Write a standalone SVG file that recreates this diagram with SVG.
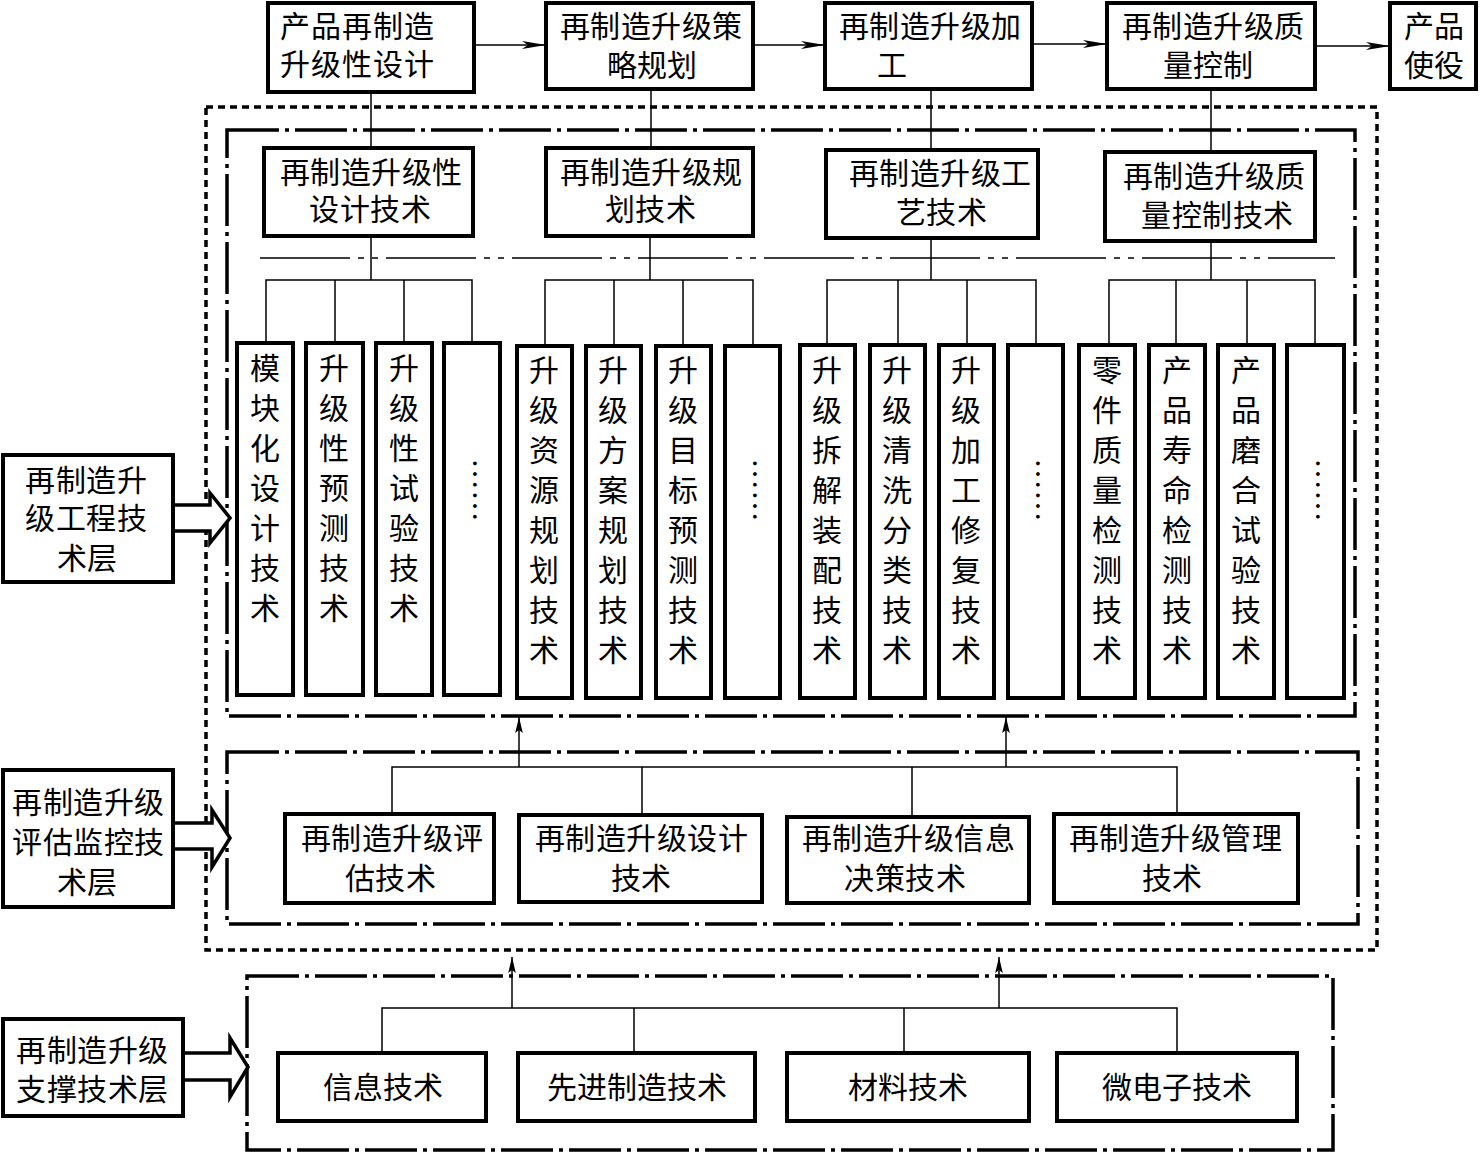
<svg xmlns="http://www.w3.org/2000/svg" width="1480" height="1153" viewBox="0 0 1480 1153">
<defs>
<style>
text{font-family:"Noto Sans CJK SC","Noto Sans CJK TC",sans-serif;font-size:30px;fill:#000;text-anchor:middle}
.box{fill:#fff;stroke:#000;stroke-width:4}
.col{fill:#fff;stroke:#000;stroke-width:4}
.ln{fill:none;stroke:#000;stroke-width:1.5}
.dot{fill:none;stroke:#000;stroke-width:3.5;stroke-dasharray:7 5}
.dd{fill:none;stroke:#000;stroke-width:3.5;stroke-dasharray:52 6 4 6}
.thindd{fill:none;stroke:#000;stroke-width:1.5;stroke-dasharray:90 8 6 8 6 8}
.hollow{fill:#fff;stroke:#000;stroke-width:3.5;stroke-linejoin:miter}
.ell{font-family:"Liberation Serif",serif;font-size:32px}
</style>
<marker id="ah" markerUnits="userSpaceOnUse" markerWidth="26" markerHeight="10" viewBox="0 -5 26 10" refX="24" refY="0" orient="auto">
<path d="M0,-4 L24,0 L0,4 L6,0 Z" fill="#000"/>
</marker>
<marker id="au" markerUnits="userSpaceOnUse" markerWidth="18" markerHeight="10" viewBox="0 -5 18 10" refX="16" refY="0" orient="auto">
<path d="M0,-3.8 L16,0 L0,3.8 L3,0 Z" fill="#000"/>
</marker>
</defs>
<rect width="1480" height="1153" fill="#fff"/>

<!-- layer frames -->
<g id="frames">
<rect class="dot" x="206" y="107" width="1171" height="843"/>
<rect class="dd" x="227" y="130" width="1128" height="586"/>
<rect class="dd" x="227" y="752" width="1131" height="172"/>
<rect class="dd" x="247" y="976" width="1086" height="174"/>
<line class="thindd" x1="260" y1="258" x2="1335" y2="258"/>
</g>

<!-- connectors -->
<g id="connectors">
<line class="ln" x1="474" y1="45" x2="546" y2="45" marker-end="url(#ah)"/>
<line class="ln" x1="753" y1="45" x2="825" y2="45" marker-end="url(#ah)"/>
<line class="ln" x1="1032" y1="44" x2="1107" y2="44" marker-end="url(#ah)"/>
<line class="ln" x1="1317" y1="46" x2="1390" y2="46" marker-end="url(#ah)"/>

<line class="ln" x1="371" y1="92" x2="371" y2="148"/>
<line class="ln" x1="651" y1="89" x2="651" y2="148"/>
<line class="ln" x1="931" y1="89" x2="931" y2="150"/>
<line class="ln" x1="1211" y1="89" x2="1211" y2="152"/>

<path class="ln" d="M371,236 V280 M266,343 V280 H472 V343 M335,280 V343 M404,280 V343"/>
<path class="ln" d="M650,236 V280 M545,346 V280 H753 V346 M614,280 V346 M683,280 V346"/>
<path class="ln" d="M931,238 V280 M827,345 V280 H1036 V345 M898,280 V345 M967,280 V345"/>
<path class="ln" d="M1211,241 V280 M1109,345 V280 H1315 V345 M1176,280 V345 M1247,280 V345"/>

<path class="ln" d="M392,814 V767 H1177 V814 M642,767 V815 M912,767 V817"/>
<line class="ln" x1="519" y1="767" x2="519" y2="717" marker-end="url(#au)"/>
<line class="ln" x1="1006" y1="767" x2="1006" y2="717" marker-end="url(#au)"/>

<path class="ln" d="M382,1053 V1008 H1177 V1053 M634,1008 V1053 M904,1008 V1053"/>
<line class="ln" x1="512" y1="1008" x2="512" y2="957" marker-end="url(#au)"/>
<line class="ln" x1="999" y1="1008" x2="999" y2="957" marker-end="url(#au)"/>

<polygon class="hollow" points="173,505 210,505 210,493 230,518 210,543 210,531 173,531"/>
<polygon class="hollow" points="173,823 212,823 212,810 230,838 212,867 212,849 173,849"/>
<polygon class="hollow" points="183,1053 230,1053 230,1038 248,1067 230,1097 230,1080 183,1080"/>
</g>

<!-- top process row -->
<g id="p1"><rect class="box" x="268" y="3" width="206" height="89"/><text x="295 326 357 388 419 295 326 357 388 419" y="37 37 37 37 37 75 75 75 75 75">产品再制造升级性设计</text></g>
<g id="p2"><rect class="box" x="546" y="3" width="207" height="86"/><text x="575 605 636 666 697 727 622 652 682" y="37 37 37 37 37 37 76 76 76">再制造升级策略规划</text></g>
<g id="p3"><rect class="box" x="825" y="3" width="207" height="86"/><text x="854 884 915 945 976 1006 892" y="37 37 37 37 37 37 76">再制造升级加工</text></g>
<g id="p4"><rect class="box" x="1107" y="3" width="208" height="86"/><text x="1137 1167 1198 1228 1259 1289 1178 1208 1238" y="37 37 37 37 37 37 76 76 76">再制造升级质量控制</text></g>
<g id="p5"><rect class="box" x="1390" y="3" width="86" height="86"/><text x="1419 1449 1419 1449" y="37 37 76 76">产品使役</text></g>

<!-- second level -->
<g id="t1"><rect class="box" x="264" y="148" width="209" height="88"/><text x="295 325 356 386 417 447 324 355 385 416" y="183 183 183 183 183 183 220 220 220 220">再制造升级性设计技术</text></g>
<g id="t2"><rect class="box" x="546" y="148" width="207" height="88"/><text x="575 605 636 666 697 727 620 650 681" y="183 183 183 183 183 183 220 220 220">再制造升级规划技术</text></g>
<g id="t3"><rect class="box" x="826" y="150" width="212" height="88"/><text x="864 894 925 955 986 1016 911 941 972" y="184 184 184 184 184 184 223 223 223">再制造升级工艺技术</text></g>
<g id="t4"><rect class="box" x="1105" y="152" width="210" height="89"/><text x="1138 1168 1199 1229 1260 1290 1156 1187 1217 1248 1278" y="187 187 187 187 187 187 226 226 226 226 226">再制造升级质量控制技术</text></g>

<!-- columns group 1 -->
<g id="c1"><rect class="col" x="237" y="343" width="56" height="352"/><text x="265 265 265 265 265 265 265" y="379 419 459 499 539 579 619">模块化设计技术</text></g>
<g id="c2"><rect class="col" x="306" y="343" width="57" height="352"/><text x="334 334 334 334 334 334 334" y="379 419 459 499 539 579 619">升级性预测技术</text></g>
<g id="c3"><rect class="col" x="376" y="343" width="56" height="352"/><text x="404 404 404 404 404 404 404" y="379 419 459 499 539 579 619">升级性试验技术</text></g>
<g id="c4"><rect class="col" x="444" y="343" width="56" height="352"/><text class="ell" x="473" y="490" transform="rotate(90 473 490)">……</text></g>

<!-- columns group 2 -->
<g id="c5"><rect class="col" x="517" y="346" width="55" height="352"/><text x="544 544 544 544 544 544 544 544" y="381 421 461 501 541 581 621 661">升级资源规划技术</text></g>
<g id="c6"><rect class="col" x="586" y="346" width="55" height="352"/><text x="613 613 613 613 613 613 613 613" y="381 421 461 501 541 581 621 661">升级方案规划技术</text></g>
<g id="c7"><rect class="col" x="656" y="346" width="55" height="352"/><text x="683 683 683 683 683 683 683 683" y="381 421 461 501 541 581 621 661">升级目标预测技术</text></g>
<g id="c8"><rect class="col" x="725" y="346" width="55" height="352"/><text class="ell" x="753" y="490" transform="rotate(90 753 490)">……</text></g>

<!-- columns group 3 -->
<g id="c9"><rect class="col" x="800" y="345" width="55" height="353"/><text x="827 827 827 827 827 827 827 827" y="381 421 461 501 541 581 621 661">升级拆解装配技术</text></g>
<g id="c10"><rect class="col" x="870" y="345" width="55" height="353"/><text x="897 897 897 897 897 897 897 897" y="381 421 461 501 541 581 621 661">升级清洗分类技术</text></g>
<g id="c11"><rect class="col" x="939" y="345" width="55" height="353"/><text x="966 966 966 966 966 966 966 966" y="381 421 461 501 541 581 621 661">升级加工修复技术</text></g>
<g id="c12"><rect class="col" x="1008" y="345" width="55" height="353"/><text class="ell" x="1036" y="490" transform="rotate(90 1036 490)">……</text></g>

<!-- columns group 4 -->
<g id="c13"><rect class="col" x="1079" y="345" width="56" height="353"/><text x="1107 1107 1107 1107 1107 1107 1107 1107" y="381 421 461 501 541 581 621 661">零件质量检测技术</text></g>
<g id="c14"><rect class="col" x="1149" y="345" width="56" height="353"/><text x="1177 1177 1177 1177 1177 1177 1177 1177" y="381 421 461 501 541 581 621 661">产品寿命检测技术</text></g>
<g id="c15"><rect class="col" x="1218" y="345" width="56" height="353"/><text x="1246 1246 1246 1246 1246 1246 1246 1246" y="381 421 461 501 541 581 621 661">产品磨合试验技术</text></g>
<g id="c16"><rect class="col" x="1287" y="345" width="57" height="353"/><text class="ell" x="1316" y="490" transform="rotate(90 1316 490)">……</text></g>

<!-- evaluation layer -->
<g id="e1"><rect class="box" x="285" y="814" width="209" height="89"/><text x="316 346 377 407 438 468 360 390 421" y="849 849 849 849 849 849 889 889 889">再制造升级评估技术</text></g>
<g id="e2"><rect class="box" x="519" y="815" width="243" height="87"/><text x="550 580 611 641 672 702 733 626 656" y="849 849 849 849 849 849 849 889 889">再制造升级设计技术</text></g>
<g id="e3"><rect class="box" x="787" y="817" width="242" height="86"/><text x="817 847 878 908 939 969 1000 859 890 920 951" y="849 849 849 849 849 849 849 889 889 889 889">再制造升级信息决策技术</text></g>
<g id="e4"><rect class="box" x="1054" y="814" width="244" height="89"/><text x="1084 1114 1145 1175 1206 1236 1267 1157 1187" y="849 849 849 849 849 849 849 889 889">再制造升级管理技术</text></g>

<!-- support layer -->
<g id="s1"><rect class="box" x="278" y="1053" width="208" height="68"/><text x="383" y="1098">信息技术</text></g>
<g id="s2"><rect class="box" x="518" y="1053" width="237" height="68"/><text x="637" y="1098">先进制造技术</text></g>
<g id="s3"><rect class="box" x="787" y="1053" width="242" height="68"/><text x="908" y="1098">材料技术</text></g>
<g id="s4"><rect class="box" x="1057" y="1053" width="240" height="68"/><text x="1177" y="1098">微电子技术</text></g>

<!-- left layer labels -->
<g id="L1"><rect class="box" x="3" y="455" width="170" height="127"/><text x="40 71 101 132 40 71 101 132 72 102" y="491 491 491 491 529 529 529 529 569 569">再制造升级工程技术层</text></g>
<g id="L2"><rect class="box" x="3" y="770" width="170" height="137"/><text x="27 58 88 119 149 27 58 88 119 149 72 102" y="813 813 813 813 813 853 853 853 853 853 893 893">再制造升级评估监控技术层</text></g>
<g id="L3"><rect class="box" x="3" y="1019" width="180" height="97"/><text x="31 62 92 123 153 31 62 92 123 153" y="1061 1061 1061 1061 1061 1100 1100 1100 1100 1100">再制造升级支撑技术层</text></g>
</svg>
